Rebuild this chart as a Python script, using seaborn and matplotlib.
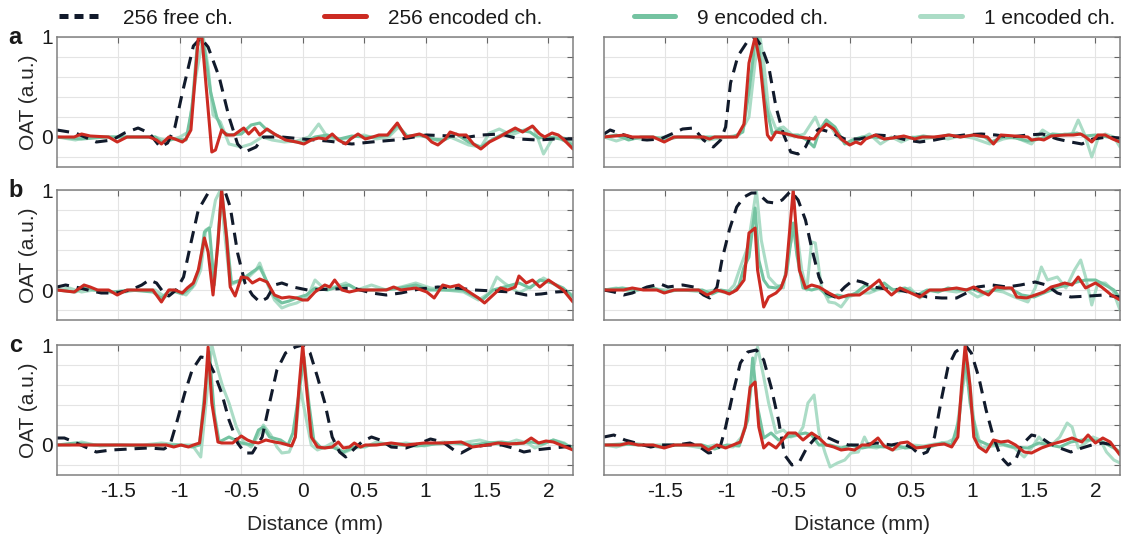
"""Encoded-channel OAT profiles, three cases x two cross sections."""

import matplotlib

matplotlib.use("Agg")
import matplotlib.pyplot as plt
import pandas as pd
import seaborn as sns
from matplotlib.lines import Line2D

# ---------------------------------------------------------------- data
SERIES = ["1 encoded ch.", "9 encoded ch.", "256 free ch.", "256 encoded ch."]
LEGEND_ORDER = ["256 free ch.", "256 encoded ch.", "9 encoded ch.", "1 encoded ch."]
PANEL_LABELS = ["a", "b", "c"]
X_TICKS = [-1.5, -1, -0.5, 0, 0.5, 1, 1.5, 2]
X_TICK_LABELS = ["-1.5", "-1", "-0.5", "0", "0.5", "1", "1.5", "2"]
Y_TICKS = [-0.2, 0, 0.2, 0.4, 0.6, 0.8, 1.0]
Y_TICK_LABELS = ["", "0", "", "", "", "", "1"]

# panel a, left
a_left_free = [(-2.0, 0.07), (-1.85, 0.04), (-1.68, -0.05), (-1.55, -0.03), (-1.45, 0.04), (-1.34, 0.09),
               (-1.25, 0.04), (-1.16, -0.1), (-1.1, -0.06), (-1.04, 0.1), (-0.98, 0.44), (-0.89, 0.91),
               (-0.83, 0.99), (-0.77, 0.9), (-0.68, 0.6), (-0.6, 0.2), (-0.53, -0.07), (-0.47, -0.15),
               (-0.38, -0.1), (-0.32, 0.0), (-0.17, 0.0), (0.0, -0.02), (0.2, -0.04), (0.4, -0.07),
               (0.56, -0.05), (0.75, -0.03), (1.01, 0.02), (1.2, 0.01), (1.35, 0.0), (1.46, 0.02),
               (1.61, 0.03), (1.76, -0.02), (1.91, -0.03), (2.05, -0.02), (2.2, -0.02)]
a_left_256 = [(-2.0, 0), (-1.86, 0), (-1.8, 0.03), (-1.73, 0.01), (-1.58, 0), (-1.51, -0.05), (-1.43, 0),
              (-1.25, 0), (-1.19, -0.03), (-1.15, -0.07), (-1.09, 0), (-1.04, -0.02), (-0.98, -0.05),
              (-0.95, -0.02), (-0.91, 0.07), (-0.85, 0.99), (-0.82, 0.99), (-0.74, -0.15), (-0.71, -0.13),
              (-0.66, 0.07), (-0.62, 0.02), (-0.56, 0.02), (-0.48, 0.09), (-0.44, 0.03), (-0.39, 0.09),
              (-0.35, 0.02), (-0.29, 0.08), (-0.23, 0.03), (-0.14, -0.03), (-0.05, -0.05), (0.01, -0.07),
              (0.07, -0.03), (0.13, -0.01), (0.19, -0.02), (0.24, 0.03), (0.29, -0.03), (0.35, -0.07),
              (0.39, -0.02), (0.45, 0.03), (0.51, -0.02), (0.57, 0), (0.62, 0.02), (0.69, 0.02),
              (0.77, 0.14), (0.84, 0), (0.95, 0.03), (1.01, 0), (1.05, -0.05), (1.1, -0.08), (1.16, -0.02),
              (1.2, 0.05), (1.27, 0.02), (1.33, 0.02), (1.39, -0.07), (1.45, -0.12), (1.52, -0.05),
              (1.6, 0), (1.67, 0.05), (1.73, 0.09), (1.79, 0.05), (1.87, 0.11), (1.93, 0.03), (1.97, 0),
              (2.03, 0.04), (2.08, 0.02), (2.12, -0.02), (2.2, -0.12)]
a_left_9 = [(-2, 0), (-1.8, -0.02), (-1.6, 0), (-1.4, 0), (-1.2, 0), (-1.15, -0.05), (-1.05, -0.02),
            (-0.95, -0.03), (-0.9, 0.3), (-0.86, 0.9), (-0.82, 1.0), (-0.79, 0.8), (-0.75, 0.45),
            (-0.7, 0.2), (-0.65, 0.05), (-0.6, 0.02), (-0.5, 0.03), (-0.42, 0.12), (-0.35, 0.14),
            (-0.3, 0.08), (-0.22, 0.02), (-0.1, -0.04), (0.0, -0.06), (0.1, 0.0), (0.2, 0.02),
            (0.3, -0.02), (0.4, 0.01), (0.5, 0.0), (0.6, 0.0), (0.7, 0.02), (0.77, 0.12), (0.85, 0.01),
            (0.95, 0.02), (1.05, -0.02), (1.15, -0.03), (1.25, 0.03), (1.35, -0.05), (1.45, -0.1),
            (1.55, -0.02), (1.65, 0.04), (1.75, 0.07), (1.85, 0.05), (1.92, -0.01), (2.0, 0.0),
            (2.1, -0.02), (2.2, -0.08)]
a_left_1 = [(-2, 0), (-1.85, -0.03), (-1.75, 0), (-1.6, 0), (-1.4, 0), (-1.2, 0), (-1.1, -0.04),
            (-1.0, 0), (-0.93, 0.05), (-0.87, 0.6), (-0.81, 1.0), (-0.77, 0.7), (-0.73, 0.22),
            (-0.67, 0.15), (-0.6, -0.07), (-0.5, -0.1), (-0.42, -0.07), (-0.33, 0.0), (-0.25, -0.03),
            (-0.15, -0.05), (-0.05, -0.04), (0.05, 0.0), (0.13, 0.13), (0.2, 0.0), (0.3, -0.03),
            (0.4, 0.0), (0.5, 0.02), (0.6, -0.02), (0.7, 0.0), (0.78, 0.1), (0.85, 0.0), (1.0, 0.02),
            (1.1, -0.04), (1.2, 0.0), (1.35, -0.08), (1.45, -0.1), (1.52, 0.04), (1.6, 0.08), (1.7, 0.02),
            (1.8, 0.07), (1.88, 0.1), (1.96, -0.17), (2.05, 0.02), (2.15, -0.02), (2.2, -0.05)]

# panel a, right
a_right_free = [(-2, 0.03), (-1.95, 0.07), (-1.86, 0.03), (-1.74, -0.02), (-1.65, -0.03), (-1.54, -0.02),
                (-1.45, 0.03), (-1.36, 0.08), (-1.27, 0.09), (-1.19, -0.03), (-1.11, -0.1), (-1.05, -0.03),
                (-1.01, 0.1), (-0.97, 0.54), (-0.91, 0.81), (-0.83, 0.96), (-0.77, 1.0), (-0.72, 0.91),
                (-0.66, 0.71), (-0.6, 0.3), (-0.54, 0.03), (-0.48, -0.15), (-0.42, -0.17), (-0.36, -0.1),
                (-0.31, 0.02), (-0.25, 0.08), (-0.16, 0.05), (-0.04, -0.02), (0.08, -0.02), (0.22, 0.02),
                (0.34, 0.01), (0.46, -0.03), (0.57, -0.05), (0.69, -0.03), (0.81, 0), (0.93, 0.02),
                (1.07, 0.03), (1.19, 0.02), (1.31, 0), (1.45, 0.02), (1.57, 0.03), (1.69, -0.02),
                (1.8, -0.05), (1.89, -0.07), (1.98, -0.02), (2.1, 0), (2.2, -0.01)]
a_right_256 = [(-2, 0), (-1.83, 0.02), (-1.77, 0), (-1.6, 0), (-1.51, -0.05), (-1.43, 0), (-1.19, 0),
               (-1.14, -0.02), (-1.1, 0), (-0.92, 0), (-0.86, 0.13), (-0.82, 0.74), (-0.77, 1.0),
               (-0.73, 0.74), (-0.67, 0.02), (-0.64, -0.03), (-0.6, 0.05), (-0.51, 0.03), (-0.42, 0),
               (-0.29, -0.02), (-0.25, 0.05), (-0.19, 0.13), (-0.13, 0.08), (-0.07, -0.02), (0.0, -0.08),
               (0.05, -0.05), (0.09, -0.07), (0.13, -0.02), (0.21, 0.02), (0.28, -0.02), (0.35, -0.01),
               (0.44, 0.01), (0.53, -0.02), (0.59, 0), (0.69, 0), (0.81, 0.02), (0.9, 0), (1.01, 0.02),
               (1.12, 0), (1.17, -0.07), (1.23, 0.02), (1.45, 0), (1.48, -0.03), (1.54, -0.02),
               (1.58, -0.03), (1.64, 0.01), (1.75, 0.02), (1.82, 0.02), (1.88, 0.03), (1.92, 0),
               (1.97, -0.05), (2.02, 0.02), (2.08, 0.02), (2.14, -0.02), (2.2, -0.05)]
a_right_9 = [(-2, 0), (-1.9, 0.02), (-1.8, -0.03), (-1.7, 0), (-1.6, 0), (-1.5, -0.03), (-1.4, 0),
             (-1.2, 0), (-1.1, 0.0), (-0.95, 0), (-0.87, 0.05), (-0.82, 0.45), (-0.77, 0.95), (-0.75, 1.0),
             (-0.72, 0.7), (-0.69, 0.37), (-0.63, 0.03), (-0.57, 0.08), (-0.5, 0.02), (-0.42, 0.02),
             (-0.35, -0.03), (-0.29, -0.1), (-0.25, 0.05), (-0.19, 0.17), (-0.12, 0.1), (-0.04, -0.07),
             (0.02, -0.03), (0.1, 0.0), (0.2, 0.0), (0.3, -0.02), (0.4, 0.0), (0.5, -0.01), (0.6, 0.01),
             (0.7, -0.01), (0.8, 0.02), (0.9, 0.0), (1.0, 0.02), (1.1, 0.0), (1.15, -0.05), (1.25, 0.0),
             (1.35, -0.01), (1.45, -0.04), (1.55, -0.02), (1.65, 0.03), (1.75, 0.02), (1.85, 0.04),
             (1.92, 0.01), (2.0, 0.02), (2.1, 0.0), (2.2, -0.03)]
a_right_1 = [(-2, 0), (-1.9, -0.04), (-1.8, 0.0), (-1.7, -0.02), (-1.5, 0), (-1.3, 0), (-1.15, -0.03),
             (-1.0, 0.0), (-0.9, 0.02), (-0.82, 0.2), (-0.77, 0.75), (-0.73, 1.0), (-0.7, 0.75),
             (-0.66, 0.27), (-0.6, 0.08), (-0.54, 0.1), (-0.45, 0.0), (-0.37, 0.03), (-0.28, 0.2),
             (-0.24, 0.08), (-0.19, 0.17), (-0.1, 0.0), (-0.02, -0.07), (0.07, -0.03), (0.16, 0.03),
             (0.25, -0.07), (0.34, 0.0), (0.42, -0.05), (0.51, 0.0), (0.6, -0.02), (0.7, 0.0), (0.8, -0.02),
             (0.9, 0.01), (1.0, -0.01), (1.14, -0.07), (1.25, -0.02), (1.34, 0.0), (1.48, -0.07),
             (1.57, 0.07), (1.66, 0.0), (1.75, 0.03), (1.81, 0.03), (1.86, 0.17), (1.91, 0.03),
             (1.97, -0.2), (2.02, -0.02), (2.08, 0.03), (2.15, 0.0), (2.2, -0.1)]

# panel b, left
b_left_free = [(-2, 0.03), (-1.93, 0.05), (-1.85, 0.03), (-1.75, 0), (-1.64, -0.03), (-1.52, -0.03),
               (-1.4, 0), (-1.31, 0.05), (-1.25, 0.1), (-1.19, 0.07), (-1.13, -0.03), (-1.09, -0.06),
               (-1.03, 0), (-0.97, 0.13), (-0.91, 0.47), (-0.85, 0.8), (-0.77, 0.97), (-0.71, 1.05),
               (-0.65, 1.05), (-0.59, 0.83), (-0.53, 0.37), (-0.47, 0.07), (-0.41, -0.05), (-0.35, -0.12),
               (-0.29, -0.08), (-0.23, 0.05), (-0.17, 0.07), (-0.08, 0.03), (0.04, 0), (0.26, 0.01),
               (0.41, 0.02), (0.56, -0.03), (0.68, -0.05), (0.8, -0.03), (0.95, 0.01), (1.1, 0.03),
               (1.25, 0.02), (1.4, 0), (1.55, -0.01), (1.7, -0.02), (1.82, -0.05), (1.94, -0.04),
               (2.06, -0.02), (2.2, -0.01)]
b_left_256 = [(-2, 0), (-1.86, -0.02), (-1.78, 0.05), (-1.73, 0.03), (-1.67, 0), (-1.58, 0), (-1.51, -0.05),
              (-1.43, 0), (-1.22, 0), (-1.15, -0.12), (-1.09, 0), (-1.04, 0), (-0.98, -0.03), (-0.94, 0.02),
              (-0.89, 0.07), (-0.85, 0.2), (-0.8, 0.52), (-0.77, 0.38), (-0.73, -0.05), (-0.69, 0.47),
              (-0.66, 1.0), (-0.62, 0.53), (-0.59, 0.03), (-0.55, -0.06), (-0.5, 0.13), (-0.45, 0.12),
              (-0.41, 0.07), (-0.35, 0.11), (-0.29, 0.08), (-0.23, -0.05), (-0.17, -0.08), (-0.11, -0.07),
              (-0.05, -0.08), (0.0, -0.1), (0.04, -0.1), (0.1, -0.02), (0.18, 0.05), (0.22, 0.03),
              (0.26, 0.1), (0.32, 0), (0.38, -0.02), (0.45, 0.0), (0.56, 0), (0.68, 0), (0.74, 0.03),
              (0.8, 0), (0.92, 0.02), (1.01, -0.02), (1.07, -0.08), (1.14, 0.05), (1.2, 0.03), (1.27, 0.05),
              (1.33, 0), (1.43, -0.08), (1.48, -0.13), (1.55, -0.05), (1.61, 0.02), (1.67, 0), (1.73, 0.03),
              (1.76, 0.14), (1.82, 0.07), (1.87, 0.1), (1.93, 0.03), (2.0, 0.1), (2.06, 0.05), (2.12, 0),
              (2.2, -0.12)]
b_left_9 = [(-2, 0), (-1.85, -0.02), (-1.78, 0.03), (-1.7, 0.0), (-1.55, -0.02), (-1.4, 0), (-1.22, -0.02),
            (-1.15, -0.08), (-1.08, 0), (-0.98, -0.04), (-0.9, 0.03), (-0.84, 0.22), (-0.8, 0.58),
            (-0.76, 0.62), (-0.72, 0.05), (-0.69, 0.5), (-0.66, 1.0), (-0.62, 0.55), (-0.58, 0.07),
            (-0.5, 0.1), (-0.41, 0.18), (-0.35, 0.23), (-0.29, 0.08), (-0.23, -0.07), (-0.17, -0.13),
            (-0.11, -0.11), (-0.05, -0.08), (0.03, -0.05), (0.1, 0.02), (0.2, 0.0), (0.29, 0.03),
            (0.38, 0.05), (0.45, 0.0), (0.6, 0.0), (0.75, 0.01), (0.92, 0.05), (1.03, 0.0), (1.15, 0.0),
            (1.3, 0.0), (1.46, -0.1), (1.55, 0.0), (1.64, 0.03), (1.76, 0.07), (1.85, 0.02), (1.93, 0.1),
            (2.03, 0.07), (2.12, 0.02), (2.2, -0.07)]
b_left_1 = [(-2, 0), (-1.9, 0.02), (-1.8, -0.02), (-1.7, 0), (-1.5, -0.03), (-1.35, 0), (-1.2, 0),
            (-1.12, -0.07), (-1.05, 0), (-0.95, -0.05), (-0.88, 0.05), (-0.83, 0.2), (-0.79, 0.6),
            (-0.75, 0.63), (-0.71, 0.9), (-0.67, 1.0), (-0.63, 0.5), (-0.59, 0.05), (-0.5, 0.1),
            (-0.44, 0.13), (-0.38, 0.2), (-0.35, 0.27), (-0.29, 0.07), (-0.23, -0.1), (-0.17, -0.18),
            (-0.11, -0.15), (-0.05, -0.13), (0.04, -0.07), (0.1, 0.1), (0.16, 0.03), (0.26, 0.03),
            (0.35, 0.07), (0.44, 0.0), (0.56, 0.05), (0.68, 0.0), (0.8, 0.03), (0.92, 0.07), (1.04, 0.02),
            (1.16, 0), (1.31, -0.02), (1.43, -0.1), (1.52, -0.03), (1.58, 0.13), (1.64, 0.07),
            (1.76, -0.03), (1.88, 0.05), (1.96, 0.12), (2.03, 0.07), (2.12, 0.0), (2.2, -0.05)]

# panel b, right
b_right_free = [(-2, 0), (-1.92, -0.02), (-1.84, -0.05), (-1.77, -0.03), (-1.65, 0.03), (-1.54, 0.06),
                (-1.48, 0.03), (-1.36, 0.05), (-1.27, 0.03), (-1.19, -0.05), (-1.14, -0.08), (-1.08, 0.03),
                (-1.04, 0.3), (-0.98, 0.6), (-0.92, 0.83), (-0.86, 0.93), (-0.8, 0.97), (-0.75, 0.97),
                (-0.67, 0.88), (-0.61, 0.87), (-0.55, 0.9), (-0.48, 0.99), (-0.42, 0.9), (-0.36, 0.7),
                (-0.31, 0.42), (-0.25, 0.13), (-0.19, -0.03), (-0.12, -0.07), (-0.04, 0.03), (0.03, 0.1),
                (0.1, 0.08), (0.19, 0.03), (0.3, 0.01), (0.4, 0), (0.51, -0.03), (0.63, -0.07), (0.75, -0.08),
                (0.87, -0.08), (0.95, -0.03), (1.04, 0.03), (1.16, 0.05), (1.28, 0.03), (1.39, 0.05),
                (1.51, 0.08), (1.6, 0.05), (1.69, -0.03), (1.8, -0.07), (1.95, -0.06), (2.07, -0.05),
                (2.2, -0.07)]
b_right_256 = [(-2, 0), (-1.84, 0), (-1.77, 0.02), (-1.68, 0), (-1.57, 0), (-1.51, -0.03), (-1.43, 0),
               (-1.23, 0), (-1.16, -0.05), (-1.08, 0), (-1.02, -0.02), (-0.98, -0.04), (-0.92, 0),
               (-0.86, 0.1), (-0.82, 0.57), (-0.77, 0.62), (-0.75, 0.2), (-0.7, -0.17), (-0.66, -0.07),
               (-0.6, -0.03), (-0.56, 0.02), (-0.52, 0.15), (-0.46, 1.0), (-0.41, 0.2), (-0.36, 0.02),
               (-0.31, 0.05), (-0.25, 0.03), (-0.17, -0.03), (-0.09, -0.08), (-0.01, -0.05), (0.08, -0.05),
               (0.16, 0.02), (0.24, 0.1), (0.28, 0.02), (0.34, -0.05), (0.41, 0.02), (0.48, -0.02),
               (0.57, -0.07), (0.65, 0), (0.75, 0.0), (0.87, 0.02), (0.95, 0), (1.01, 0.03), (1.08, -0.02),
               (1.13, -0.05), (1.19, 0.03), (1.26, 0.02), (1.32, 0.02), (1.36, -0.07), (1.44, -0.08),
               (1.51, -0.05), (1.58, -0.02), (1.64, 0.03), (1.7, 0.05), (1.75, 0.07), (1.81, 0.05),
               (1.86, 0.13), (1.92, 0.02), (2.0, 0.07), (2.05, 0.03), (2.13, -0.05), (2.2, -0.1)]
b_right_9 = [(-2, 0), (-1.85, 0.02), (-1.75, 0.0), (-1.6, 0.02), (-1.5, -0.02), (-1.4, 0), (-1.2, 0),
             (-1.12, -0.04), (-1.05, 0), (-0.95, -0.02), (-0.9, 0.05), (-0.86, 0.23), (-0.82, 0.33),
             (-0.77, 0.82), (-0.74, 0.3), (-0.7, 0.1), (-0.66, 0.03), (-0.6, 0.02), (-0.55, 0.05),
             (-0.51, 0.2), (-0.46, 0.67), (-0.43, 0.35), (-0.38, 0.02), (-0.31, 0.0), (-0.25, 0.02),
             (-0.17, -0.07), (-0.1, -0.05), (-0.03, -0.07), (0.05, -0.03), (0.13, 0.05), (0.2, 0.0),
             (0.28, 0.07), (0.35, 0.0), (0.45, 0.02), (0.55, -0.05), (0.63, 0.0), (0.72, -0.02),
             (0.8, 0.02), (0.9, 0.0), (1.0, 0.01), (1.08, -0.03), (1.18, 0.0), (1.3, 0.02), (1.4, -0.05),
             (1.5, -0.07), (1.6, -0.02), (1.7, 0.03), (1.78, 0.05), (1.85, 0.08), (1.92, 0.1), (2.0, 0.1),
             (2.08, 0.05), (2.15, 0.0), (2.2, -0.08)]
b_right_1 = [(-2, 0), (-1.9, 0.02), (-1.78, -0.02), (-1.65, 0.02), (-1.5, 0), (-1.35, 0), (-1.2, -0.02),
             (-1.1, 0.0), (-1.0, -0.03), (-0.94, 0.05), (-0.89, 0.23), (-0.83, 0.43), (-0.76, 1.0),
             (-0.72, 0.5), (-0.66, 0.13), (-0.6, 0.05), (-0.54, 0.02), (-0.5, 0.37), (-0.44, 0.67),
             (-0.39, 0.2), (-0.35, 0.0), (-0.31, 0.48), (-0.28, 0.47), (-0.23, 0.03), (-0.17, -0.12),
             (-0.12, -0.13), (-0.07, -0.17), (-0.01, -0.07), (0.08, -0.03), (0.16, -0.03), (0.22, 0.0),
             (0.31, 0.03), (0.4, -0.02), (0.49, 0.02), (0.57, -0.08), (0.66, 0.0), (0.75, 0.0),
             (0.87, -0.02), (0.95, 0.0), (1.04, -0.07), (1.16, 0.0), (1.25, -0.02), (1.34, -0.07),
             (1.45, -0.12), (1.51, 0.02), (1.56, 0.23), (1.61, 0.1), (1.69, 0.13), (1.76, 0.02),
             (1.83, 0.2), (1.88, 0.3), (1.92, 0.13), (1.97, -0.15), (2.02, 0.07), (2.08, 0.07),
             (2.14, 0.0), (2.2, -0.2)]

# panel c, left
c_left_free = [(-2, 0.07), (-1.94, 0.07), (-1.86, 0.03), (-1.77, -0.02), (-1.68, -0.07), (-1.56, -0.05),
               (-1.41, -0.04), (-1.26, -0.03), (-1.13, -0.04), (-1.08, 0), (-1.02, 0.25), (-0.96, 0.52),
               (-0.9, 0.75), (-0.83, 0.88), (-0.78, 0.87), (-0.72, 0.72), (-0.66, 0.52), (-0.6, 0.25),
               (-0.53, 0.02), (-0.47, -0.08), (-0.41, -0.08), (-0.33, 0.08), (-0.27, 0.42), (-0.21, 0.75),
               (-0.14, 0.92), (-0.06, 0.98), (0.0, 1.0), (0.06, 0.92), (0.12, 0.68), (0.18, 0.42),
               (0.24, 0.08), (0.3, -0.07), (0.35, -0.12), (0.41, -0.05), (0.48, 0.03), (0.56, 0.08),
               (0.63, 0.05), (0.72, -0.02), (0.84, -0.03), (0.96, 0.02), (1.04, 0.06), (1.14, 0.03),
               (1.23, -0.05), (1.29, -0.08), (1.38, -0.02), (1.5, 0.0), (1.62, 0), (1.71, -0.03),
               (1.8, -0.07), (1.89, -0.05), (2.04, -0.03), (2.2, -0.01)]
c_left_256 = [(-2, 0), (-1.6, 0), (-1.26, 0), (-1.11, 0), (-1.05, -0.02), (-0.99, 0), (-0.93, -0.02),
              (-0.89, 0), (-0.84, 0.02), (-0.8, 0.42), (-0.77, 0.98), (-0.74, 0.42), (-0.69, 0.03),
              (-0.66, 0.02), (-0.57, 0.02), (-0.5, 0.09), (-0.45, 0.05), (-0.41, 0.03), (-0.36, 0.02),
              (-0.3, 0.05), (-0.23, 0.03), (-0.18, 0.02), (-0.09, -0.01), (-0.06, 0.08), (-0.03, 0.58),
              (0.0, 1.0), (0.03, 0.58), (0.07, 0.08), (0.12, -0.02), (0.18, -0.03), (0.24, -0.02),
              (0.29, 0.03), (0.33, -0.03), (0.38, -0.02), (0.42, 0.02), (0.47, -0.02), (0.51, 0),
              (0.6, 0), (0.72, 0.02), (0.84, 0), (0.99, 0.02), (1.14, 0.02), (1.29, 0.03), (1.38, -0.02),
              (1.5, 0), (1.59, 0.02), (1.68, 0.01), (1.8, 0.02), (1.86, 0.07), (1.92, 0.02), (1.98, 0.04),
              (2.04, 0.03), (2.1, 0.0), (2.2, -0.05)]
c_left_9 = [(-2, 0), (-1.85, 0.02), (-1.7, 0.0), (-1.5, 0.0), (-1.3, -0.01), (-1.15, 0.0), (-1.0, 0.0),
            (-0.9, -0.02), (-0.84, 0.0), (-0.8, 0.5), (-0.76, 0.93), (-0.72, 0.32), (-0.68, 0.03),
            (-0.6, 0.08), (-0.5, 0.02), (-0.41, 0.0), (-0.36, 0.15), (-0.32, 0.18), (-0.27, 0.08),
            (-0.18, 0.05), (-0.12, 0.0), (-0.08, 0.12), (-0.03, 0.52), (0.01, 0.88), (0.05, 0.42),
            (0.09, 0.05), (0.15, -0.03), (0.24, -0.02), (0.33, -0.07), (0.42, -0.02), (0.5, -0.01),
            (0.63, 0.01), (0.78, 0.0), (0.93, -0.01), (1.08, 0.01), (1.23, 0.02), (1.38, 0.0), (1.5, 0.02),
            (1.62, 0.03), (1.74, 0.01), (1.86, 0.03), (1.95, 0.01), (2.04, 0.05), (2.13, 0.01), (2.2, -0.03)]
c_left_1 = [(-2, 0), (-1.9, 0.0), (-1.8, 0.03), (-1.65, -0.01), (-1.5, 0), (-1.3, 0), (-1.15, 0.02),
            (-1.0, 0.0), (-0.9, 0.0), (-0.83, -0.12), (-0.79, 0.38), (-0.74, 1.0), (-0.69, 0.75),
            (-0.65, 0.58), (-0.6, 0.42), (-0.54, 0.18), (-0.48, 0.03), (-0.42, -0.02), (-0.36, 0.1),
            (-0.32, 0.2), (-0.26, 0.1), (-0.21, -0.02), (-0.17, -0.08), (-0.11, -0.07), (-0.06, 0.08),
            (-0.02, 0.57), (0.03, 0.25), (0.07, 0.0), (0.12, -0.05), (0.18, -0.02), (0.24, 0.02),
            (0.33, -0.08), (0.42, -0.03), (0.51, -0.02), (0.6, 0.03), (0.72, 0.0), (0.84, 0.02),
            (0.99, -0.01), (1.14, 0.03), (1.29, 0.02), (1.44, 0.05), (1.53, 0.02), (1.62, 0.0),
            (1.74, 0.05), (1.83, 0.02), (1.89, -0.03), (1.98, 0.02), (2.04, 0.05), (2.13, 0.02), (2.2, -0.05)]

# panel c, right
c_right_free = [(-2, 0.08), (-1.92, 0.1), (-1.83, 0.05), (-1.74, 0.02), (-1.62, -0.02), (-1.53, 0.0),
                (-1.41, 0.0), (-1.3, 0.02), (-1.22, -0.02), (-1.15, -0.08), (-1.1, -0.07), (-1.05, 0),
                (-1.01, 0.18), (-0.95, 0.52), (-0.89, 0.82), (-0.83, 0.93), (-0.76, 0.95), (-0.7, 0.85),
                (-0.64, 0.58), (-0.58, 0.25), (-0.53, -0.1), (-0.47, -0.2), (-0.41, -0.17), (-0.35, -0.03),
                (-0.28, 0.07), (-0.19, 0.08), (-0.1, 0.03), (-0.01, 0), (0.1, 0), (0.22, 0.02), (0.34, 0),
                (0.42, 0.02), (0.51, -0.03), (0.57, -0.1), (0.63, -0.07), (0.69, 0.08), (0.75, 0.48),
                (0.8, 0.78), (0.86, 0.93), (0.94, 1.0), (0.99, 0.92), (1.05, 0.68), (1.11, 0.35),
                (1.17, 0.08), (1.23, -0.12), (1.29, -0.2), (1.35, -0.15), (1.4, 0), (1.48, 0.1),
                (1.55, 0.08), (1.62, 0.02), (1.71, -0.03), (1.8, -0.07), (1.89, -0.03), (1.97, 0),
                (2.06, 0.02), (2.2, -0.01)]
c_right_256 = [(-2, 0), (-1.87, 0), (-1.8, 0.02), (-1.72, 0), (-1.6, 0), (-1.51, -0.03), (-1.43, 0),
               (-1.21, 0), (-1.15, -0.05), (-1.08, 0), (-1.01, -0.03), (-0.95, 0), (-0.89, 0.03),
               (-0.85, 0.18), (-0.81, 0.58), (-0.77, 0.63), (-0.74, 0.18), (-0.7, -0.03), (-0.66, 0.02),
               (-0.6, -0.03), (-0.56, 0.03), (-0.5, 0.12), (-0.44, 0.12), (-0.38, 0.05), (-0.31, 0.12),
               (-0.25, 0.07), (-0.19, 0), (-0.13, -0.02), (-0.07, -0.05), (-0.01, -0.04), (0.04, -0.05),
               (0.1, 0), (0.16, 0), (0.23, 0.07), (0.28, -0.01), (0.35, -0.05), (0.41, 0.02), (0.47, 0.03),
               (0.54, -0.03), (0.6, -0.02), (0.69, 0), (0.77, 0.01), (0.83, -0.02), (0.88, 0.08),
               (0.91, 0.58), (0.94, 1.0), (0.98, 0.58), (1.01, 0.08), (1.05, -0.02), (1.11, -0.07),
               (1.17, 0.05), (1.23, 0.03), (1.29, 0.04), (1.35, 0), (1.42, -0.07), (1.48, -0.08),
               (1.56, -0.03), (1.65, 0.01), (1.74, 0.04), (1.81, 0.07), (1.89, 0.03), (1.94, 0.1),
               (2.0, 0.02), (2.06, 0.07), (2.12, 0.03), (2.2, -0.1)]
c_right_9 = [(-2, 0), (-1.85, 0.01), (-1.7, 0.0), (-1.55, -0.02), (-1.4, 0), (-1.2, 0), (-1.1, -0.04),
             (-1.0, 0), (-0.9, -0.01), (-0.83, 0.25), (-0.79, 0.87), (-0.75, 0.38), (-0.7, 0.07),
             (-0.64, 0.12), (-0.58, 0.05), (-0.51, 0.08), (-0.44, 0.1), (-0.36, 0.12), (-0.31, 0.1),
             (-0.25, 0.0), (-0.16, 0.0), (-0.07, -0.03), (0.01, 0.0), (0.1, -0.03), (0.19, -0.01),
             (0.28, -0.02), (0.37, 0.0), (0.45, -0.03), (0.54, -0.02), (0.63, -0.03), (0.75, 0.02),
             (0.83, 0.0), (0.89, 0.25), (0.94, 0.88), (0.98, 0.42), (1.04, 0.05), (1.13, 0.0), (1.21, 0.02),
             (1.33, -0.02), (1.45, -0.03), (1.54, 0.02), (1.63, 0.0), (1.71, -0.02), (1.8, 0.03),
             (1.89, 0.05), (1.97, 0.05), (2.06, 0.03), (2.15, -0.03), (2.2, -0.07)]
c_right_1 = [(-2, 0), (-1.9, -0.02), (-1.78, 0.02), (-1.65, 0.0), (-1.5, 0), (-1.35, 0.0), (-1.2, -0.03),
             (-1.1, 0.0), (-0.95, -0.02), (-0.88, 0.08), (-0.83, 0.28), (-0.79, 0.72), (-0.75, 0.98),
             (-0.7, 0.68), (-0.66, 0.42), (-0.6, 0.12), (-0.54, 0.15), (-0.48, 0.08), (-0.42, 0.1),
             (-0.38, 0.18), (-0.34, 0.42), (-0.29, 0.5), (-0.25, 0.12), (-0.2, -0.08), (-0.16, -0.22),
             (-0.1, -0.18), (-0.04, -0.15), (0.01, -0.08), (0.07, -0.07), (0.12, 0.08), (0.16, -0.02),
             (0.22, -0.03), (0.28, 0.0), (0.34, -0.05), (0.42, -0.03), (0.51, 0.0), (0.6, -0.01),
             (0.69, 0.01), (0.8, 0.03), (0.86, 0.07), (0.92, 0.58), (0.96, 0.82), (1.01, 0.25),
             (1.07, -0.03), (1.16, -0.01), (1.25, 0.0), (1.34, -0.03), (1.42, -0.12), (1.48, -0.03),
             (1.54, 0.08), (1.6, 0.0), (1.66, 0.02), (1.71, 0.08), (1.77, 0.22), (1.81, 0.18),
             (1.86, -0.03), (1.92, 0.02), (1.98, 0.08), (2.04, 0.05), (2.09, -0.07), (2.15, -0.15),
             (2.2, -0.18)]

PANELS = [
    [(a_left_1, a_left_9, a_left_free, a_left_256), (a_right_1, a_right_9, a_right_free, a_right_256)],
    [(b_left_1, b_left_9, b_left_free, b_left_256), (b_right_1, b_right_9, b_right_free, b_right_256)],
    [(c_left_1, c_left_9, c_left_free, c_left_256), (c_right_1, c_right_9, c_right_free, c_right_256)],
]

# ---------------------------------------------------------------- style
COLORS = {
    "256 free ch.": "#111a2b",
    "256 encoded ch.": "#cc2b22",
    "9 encoded ch.": "#74c3a1",
    "1 encoded ch.": "#abdcc6",
}
DASHES = {
    "256 free ch.": (4, 2.6),
    "256 encoded ch.": "",
    "9 encoded ch.": "",
    "1 encoded ch.": "",
}

sns.set_style("white")
plt.rcParams["font.family"] = ["Liberation Sans", "DejaVu Sans"]
plt.rcParams["font.size"] = 15
plt.rcParams["text.color"] = "#1a1a1a"

fig = plt.figure(figsize=(11.23, 5.37), dpi=100)

COL_X = [57 / 1123, 604 / 1123]
ROW_Y = [1 - 167 / 537, 1 - 320 / 537, 1 - 475 / 537]
AX_W = 516 / 1123
AX_H = 130 / 537


def to_frame(curves):
    rows = []
    for name, pts in zip(SERIES, curves):
        for i, (x, y) in enumerate(pts):
            rows.append({"series": name, "order": i, "x": x, "y": y})
    return pd.DataFrame(rows)


for r, row in enumerate(PANELS):
    for c, curves in enumerate(row):
        ax = fig.add_axes([COL_X[c], ROW_Y[r], AX_W, AX_H])
        df = to_frame(curves)
        sns.lineplot(
            data=df, x="x", y="y", hue="series", style="series",
            hue_order=SERIES, style_order=SERIES, palette=COLORS, dashes=DASHES,
            sort=False, estimator=None, linewidth=2.2, legend=False, ax=ax,
        )
        ax.set_xlim(-2.0, 2.2)
        ax.set_ylim(-0.3, 1.0)
        ax.set_xticks(X_TICKS)
        ax.set_yticks(Y_TICKS)
        ax.grid(True, color="#e4e4e4", linewidth=0.8)
        ax.set_axisbelow(True)
        for sp in ax.spines.values():
            sp.set_visible(True)
            sp.set_color("#808080")
            sp.set_linewidth(1.1)
        ax.tick_params(direction="in", length=4, width=0.8, color="#666666",
                       top=True, right=True, labelsize=15, labelcolor="#1a1a1a")
        ax.tick_params(axis="y", pad=3)
        ax.tick_params(axis="x", pad=5)

        if r == 2:
            ax.set_xticklabels(X_TICK_LABELS)
            ax.set_xlabel("Distance (mm)", fontsize=15, labelpad=10)
        else:
            ax.set_xticklabels([])
            ax.set_xlabel("")
        if c == 0:
            ax.set_yticklabels(Y_TICK_LABELS)
            ax.set_ylabel("OAT (a.u.)", fontsize=15, labelpad=2)
            ax.text(-0.081, 1.0, PANEL_LABELS[r], transform=ax.transAxes,
                    ha="center", va="center", fontsize=17, fontweight="bold")
        else:
            ax.set_yticklabels([])
            ax.set_ylabel("")

handles = []
for name in LEGEND_ORDER:
    if DASHES[name]:
        handles.append(Line2D([], [], color=COLORS[name], lw=3.6, dashes=(1.8, 1.2)))
    else:
        handles.append(Line2D([], [], color=COLORS[name], lw=3.6))
fig.legend(
    handles, LEGEND_ORDER, loc="center left", bbox_to_anchor=(59 / 1123, 1 - 18 / 537),
    ncol=4, frameon=False, fontsize=15, handlelength=2.0, handletextpad=1.05,
    columnspacing=4.4, borderpad=0, borderaxespad=0,
)

fig.savefig("out.png", dpi=100)
plt.close(fig)
